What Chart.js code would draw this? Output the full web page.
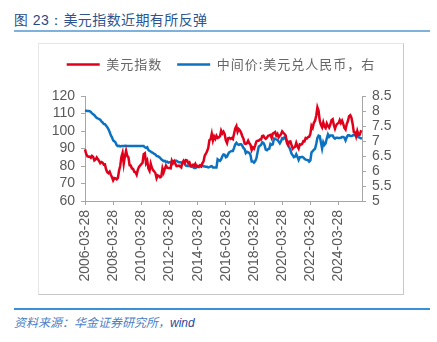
<!DOCTYPE html>
<html>
<head>
<meta charset="utf-8">
<script src="https://cdn.jsdelivr.net/npm/chart.js@4"></script>
<style>
  body { margin: 0; background: #fff; }
  #page { position: relative; width: 437px; height: 342px; overflow: hidden; background: #fff; }
  #title { position: absolute; left: 14px; top: 9px; font: 14px "Noto Sans CJK SC", sans-serif; color: #2a5591; letter-spacing: 0.4px; white-space: nowrap; }
  #title b { font-family: "Liberation Sans", Arial, sans-serif; font-weight: normal; color: #1f4a86; }
  #rule-top { position: absolute; left: 14px; top: 30px; width: 416px; height: 2px; background: #7eb2dd; }
  #box { position: absolute; left: 38px; top: 43px; width: 366px; height: 252px; box-sizing: border-box; border: 1px solid #e6e6e6; border-right-color: #c8c8c8; border-bottom-color: #c8c8c8; pointer-events: none; }
  #chart { position: absolute; left: 38px; top: 43px; }
  #rule-bottom { position: absolute; left: 14px; top: 308px; width: 416px; height: 2px; background: #3b8fd6; }
  #source { position: absolute; left: 14px; top: 313px; font: italic 12px "Noto Sans CJK SC", sans-serif; color: #4a7fc6; white-space: nowrap; }
  #source span { font-family: "Liberation Sans", Arial, sans-serif; color: #1f4a9c; }
</style>
</head>
<body>
<div id="page">
  <div id="title"><b>图 23：</b>美元指数近期有所反弹</div>
  <div id="rule-top"></div>
  <canvas id="chart" width="366" height="252" style="width:366px;height:252px"></canvas>
  <div id="box"></div>
  <div id="rule-bottom"></div>
  <div id="source">资料来源：华金证券研究所，<span>wind</span></div>
</div>
<script>
// Monthly series, 2006-03 .. 2025-11
const START_YEAR = 2006;
const START_MONTH = 3;

// US dollar index, grouped by year
const dxyByYear = [
  [89.5, 86.9, 85.6, 85.3, 85.4, 84.7, 85.8, 85.2, 83.2, 83.7],
  [84.9, 83.8, 82.9, 81.6, 82.3, 81.9, 80.8, 80.9, 78.0, 76.4, 75.9, 76.7],
  [75.0, 73.6, 71.8, 73.1, 72.9, 72.4, 73.2, 77.3, 80.0, 85.2, 87.5, 81.3],
  [85.5, 88.7, 85.8, 85.0, 80.4, 80.2, 78.6, 78.3, 76.7, 76.4, 75.0, 77.8],
  [79.5, 80.3, 81.1, 81.8, 86.8, 87.3, 81.7, 83.1, 78.6, 77.2, 81.3, 79.0],
  [77.6, 76.9, 75.9, 73.0, 74.6, 74.3, 73.5, 74.0, 78.6, 76.3, 78.3, 80.2],
  [79.1, 78.9, 78.9, 78.7, 83.0, 81.6, 82.7, 81.2, 79.9, 80.0, 80.2, 79.8],
  [79.2, 82.0, 83.0, 81.8, 83.4, 83.2, 81.5, 82.1, 80.2, 80.2, 80.7, 80.0],
  [81.2, 79.7, 80.1, 79.5, 80.4, 79.8, 81.5, 82.7, 85.9, 87.0, 88.4, 90.3],
  [94.8, 95.3, 98.4, 94.6, 96.9, 95.5, 97.3, 96.0, 96.3, 97.0, 100.2, 98.6],
  [99.6, 98.2, 94.6, 93.1, 95.9, 96.1, 95.5, 96.0, 95.4, 98.4, 101.5, 102.8],
  [99.5, 101.1, 100.3, 99.0, 97.0, 95.6, 92.9, 92.7, 93.1, 94.5, 93.0, 92.1],
  [89.1, 90.6, 89.9, 91.8, 94.0, 94.5, 94.5, 95.1, 95.1, 97.1, 97.3, 96.2],
  [95.6, 96.2, 97.3, 97.5, 97.8, 96.1, 98.5, 98.9, 99.4, 97.4, 98.3, 96.4],
  [97.4, 98.1, 99.8, 99.0, 98.3, 97.4, 93.3, 92.1, 93.9, 94.0, 91.9, 89.9],
  [90.6, 90.9, 93.2, 91.3, 90.0, 92.4, 92.2, 92.6, 94.2, 94.1, 96.0, 95.7],
  [96.5, 96.7, 98.3, 103.0, 101.8, 104.7, 105.9, 108.7, 113.5, 111.5, 105.9, 103.5],
  [102.1, 104.9, 102.5, 101.7, 104.3, 102.9, 101.9, 103.6, 106.2, 106.7, 103.5, 101.3],
  [103.3, 104.2, 104.5, 106.2, 104.6, 105.9, 104.1, 101.7, 100.8, 104.0, 105.7, 108.5],
  [109.0, 107.6, 104.2, 99.5, 99.3, 96.9, 100.0, 97.8, 97.8, 99.8, 99.5]
];

// USD/CNY central parity, grouped by year
const cnyByYear = [
  [8.02, 8.01, 8.00, 8.00, 7.99, 7.97, 7.92, 7.89, 7.86, 7.81],
  [7.77, 7.75, 7.73, 7.71, 7.65, 7.62, 7.57, 7.56, 7.51, 7.46, 7.39, 7.30],
  [7.19, 7.12, 7.02, 6.99, 6.95, 6.86, 6.83, 6.84, 6.82, 6.83, 6.83, 6.83],
  [6.84, 6.84, 6.83, 6.83, 6.83, 6.83, 6.83, 6.83, 6.83, 6.83, 6.83, 6.83],
  [6.83, 6.83, 6.83, 6.83, 6.83, 6.79, 6.77, 6.79, 6.70, 6.67, 6.65, 6.62],
  [6.60, 6.57, 6.55, 6.50, 6.49, 6.47, 6.44, 6.39, 6.36, 6.33, 6.34, 6.30],
  [6.31, 6.28, 6.29, 6.29, 6.32, 6.32, 6.32, 6.34, 6.34, 6.31, 6.29, 6.29],
  [6.28, 6.28, 6.27, 6.23, 6.18, 6.17, 6.17, 6.17, 6.15, 6.14, 6.13, 6.10],
  [6.10, 6.12, 6.15, 6.16, 6.17, 6.15, 6.17, 6.16, 6.15, 6.14, 6.14, 6.12],
  [6.13, 6.15, 6.16, 6.12, 6.12, 6.12, 6.12, 6.39, 6.36, 6.34, 6.39, 6.49],
  [6.55, 6.54, 6.46, 6.48, 6.57, 6.63, 6.65, 6.67, 6.67, 6.77, 6.89, 6.94],
  [6.89, 6.87, 6.89, 6.89, 6.84, 6.77, 6.73, 6.60, 6.64, 6.62, 6.60, 6.53],
  [6.32, 6.32, 6.28, 6.33, 6.42, 6.62, 6.81, 6.84, 6.87, 6.96, 6.94, 6.86],
  [6.71, 6.69, 6.73, 6.74, 6.90, 6.87, 6.89, 7.08, 7.07, 7.05, 7.03, 6.98],
  [6.92, 6.99, 7.09, 7.07, 7.13, 7.08, 7.00, 6.86, 6.79, 6.70, 6.58, 6.52],
  [6.46, 6.48, 6.56, 6.47, 6.37, 6.46, 6.46, 6.47, 6.45, 6.41, 6.38, 6.37],
  [6.36, 6.31, 6.35, 6.62, 6.66, 6.71, 6.74, 6.90, 7.10, 7.18, 7.16, 6.96],
  [6.75, 6.96, 6.87, 6.92, 7.09, 7.22, 7.14, 7.18, 7.18, 7.18, 7.11, 7.08],
  [7.11, 7.11, 7.10, 7.10, 7.11, 7.13, 7.13, 7.11, 7.02, 7.12, 7.19, 7.19],
  [7.17, 7.17, 7.18, 7.21, 7.19, 7.16, 7.15, 7.13, 7.11, 7.09, 7.08]
];

const dxy = dxyByYear.flat();
const cny = cnyByYear.flat();

// one category per month, labelled YYYY-MM-28
const months = dxy.map((_, i) => {
  const m = START_MONTH - 1 + i;
  const y = START_YEAR + Math.floor(m / 12);
  return `${y}-${String(m % 12 + 1).padStart(2, '0')}-28`;
});

const LABEL_STEP = 24; // a tick every two years
const AXIS_COLOR = '#a6a6a6';
const TEXT_COLOR = '#595959';
const NUM_FONT = { family: '"Liberation Sans", Arial, sans-serif', size: 14 };

// fixed-height legend strip, with a little letter spacing on its labels
const legendTweaks = {
  id: 'legendTweaks',
  beforeInit(chart) {
    const legend = chart.legend;
    const fit = legend.fit;
    const draw = legend.draw;
    legend.fit = function () {
      this.ctx.letterSpacing = '1px';
      fit.call(this);
      this.ctx.letterSpacing = '0px';
      this.height = 53;
    };
    legend.draw = function () {
      this.ctx.letterSpacing = '1px';
      draw.call(this);
      this.ctx.letterSpacing = '0px';
    };
  }
};

new Chart(document.getElementById('chart'), {
  type: 'line',
  data: {
    labels: months,
    datasets: [
      {
        label: '美元指数',
        data: dxy,
        yAxisID: 'y',
        borderColor: '#e0001b',
        backgroundColor: '#e0001b',
        borderWidth: 2.5,
        pointRadius: 0,
        tension: 0
      },
      {
        label: '中间价:美元兑人民币，右',
        data: cny,
        yAxisID: 'y1',
        borderColor: '#0b72c2',
        backgroundColor: '#0b72c2',
        borderWidth: 2.5,
        pointRadius: 0,
        tension: 0
      }
    ]
  },
  options: {
    responsive: false,
    animation: false,
    devicePixelRatio: 1,
    layout: { padding: 0 },
    plugins: {
      legend: {
        labels: {
          usePointStyle: true,
          pointStyle: 'line',
          pointStyleWidth: 33,
          padding: 15,
          color: '#666666',
          font: { family: '"Noto Sans CJK SC", sans-serif', size: 13 }
        }
      },
      tooltip: { enabled: false }
    },
    scales: {
      x: {
        grid: { drawOnChartArea: false, tickLength: 4, color: AXIS_COLOR },
        border: { color: AXIS_COLOR },
        ticks: {
          autoSkip: false,
          minRotation: 90,
          maxRotation: 90,
          padding: 5,
          color: TEXT_COLOR,
          font: NUM_FONT,
          callback(value, index) {
            return index % LABEL_STEP === 0 ? months[index] : null;
          }
        },
        afterFit(scale) { scale.height = 94; }
      },
      y: {
        position: 'left',
        min: 60,
        max: 120,
        grid: { drawOnChartArea: false, tickLength: 4, color: AXIS_COLOR },
        border: { color: AXIS_COLOR },
        ticks: { stepSize: 10, autoSkip: false, padding: 6, color: TEXT_COLOR, font: NUM_FONT },
        afterFit(scale) { scale.width = 47; }
      },
      y1: {
        position: 'right',
        min: 5,
        max: 8.5,
        grid: { drawOnChartArea: false, tickLength: 4, color: AXIS_COLOR },
        border: { color: AXIS_COLOR },
        ticks: {
          stepSize: 0.5,
          autoSkip: false,
          padding: 6,
          color: TEXT_COLOR,
          font: NUM_FONT,
          callback: v => String(v)
        },
        afterFit(scale) { scale.width = 42; }
      }
    }
  },
  plugins: [legendTweaks]
});
</script>
</body>
</html>
